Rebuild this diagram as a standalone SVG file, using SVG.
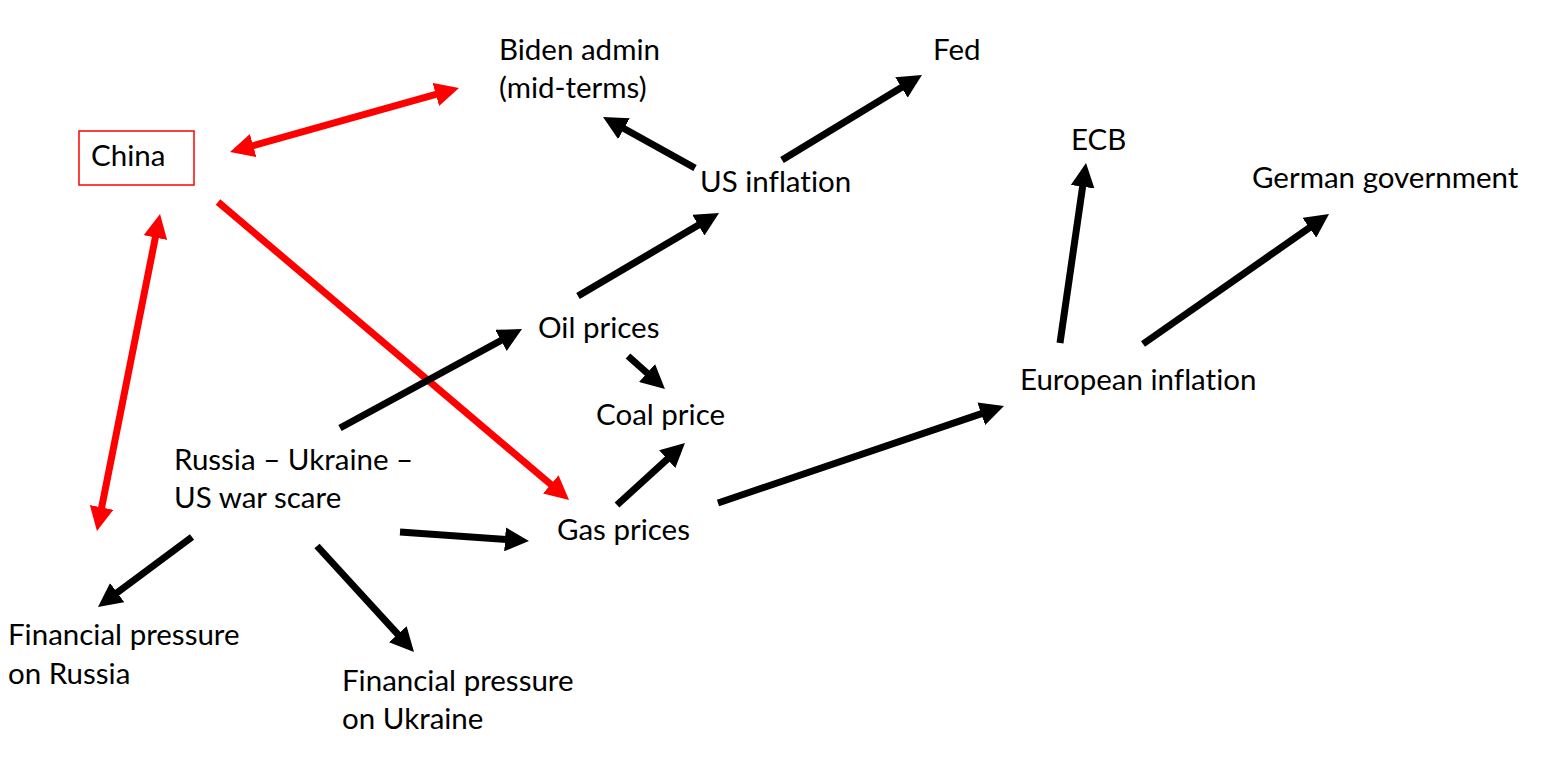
<svg xmlns="http://www.w3.org/2000/svg" width="1544" height="776" viewBox="0 0 1544 776">
<style>
text{font-family:Lato,"Liberation Sans",sans-serif;font-size:29.5px;fill:#000;font-variant-ligatures:none}
.k{stroke:#000;stroke-width:7;fill:none}
.r{stroke:#f00;stroke-width:7;fill:none}
</style>
<defs>
<marker id="ak" markerUnits="userSpaceOnUse" markerWidth="24" markerHeight="24" viewBox="0 0 24 24" refX="12" refY="12" orient="auto-start-reverse"><path d="M0,0 L24,12 L0,24 Z" fill="#000"/></marker>
<marker id="ar" markerUnits="userSpaceOnUse" markerWidth="24" markerHeight="24" viewBox="0 0 24 24" refX="12" refY="12" orient="auto-start-reverse"><path d="M0,0 L24,12 L0,24 Z" fill="#f00"/></marker>
</defs>
<rect width="1544" height="776" fill="#fff"/>
<g id="connectors">
<line class="r" x1="241.6" y1="148.8" x2="447.4" y2="91.2" marker-start="url(#ar)" marker-end="url(#ar)"/>
<line class="r" x1="157.7" y1="225.8" x2="99.3" y2="519.2" marker-start="url(#ar)" marker-end="url(#ar)"/>
<line class="r" x1="218" y1="202" x2="559.9" y2="492.2" marker-end="url(#ar)"/>
<line class="k" x1="340" y1="428" x2="511.5" y2="334.7" marker-end="url(#ak)"/>
<line class="k" x1="400" y1="532" x2="517" y2="540.2" marker-end="url(#ak)"/>
<line class="k" x1="192" y1="537" x2="107.6" y2="599.8" marker-end="url(#ak)"/>
<line class="k" x1="317" y1="546" x2="405.9" y2="643.1" marker-end="url(#ak)"/>
<line class="k" x1="578" y1="296" x2="708.7" y2="219.1" marker-end="url(#ak)"/>
<line class="k" x1="628" y1="356" x2="656" y2="381" marker-end="url(#ak)"/>
<line class="k" x1="617" y1="505" x2="676.1" y2="451.1" marker-end="url(#ak)"/>
<line class="k" x1="718" y1="503" x2="992.6" y2="409.9" marker-end="url(#ak)"/>
<line class="k" x1="695" y1="168" x2="613.5" y2="122.8" marker-end="url(#ak)"/>
<line class="k" x1="782" y1="160" x2="911.7" y2="81.2" marker-end="url(#ak)"/>
<line class="k" x1="1060" y1="343" x2="1084.3" y2="174.9" marker-end="url(#ak)"/>
<line class="k" x1="1143" y1="344" x2="1319.2" y2="220.9" marker-end="url(#ak)"/>
</g>
<g id="china"><rect x="79" y="131" width="115" height="54" fill="none" stroke="#f00" stroke-width="1.5"/><text x="91" y="166">China</text></g>
<g id="biden"><text x="499" y="60">Biden admin</text><text x="499" y="98">(mid-terms)</text></g>
<g id="fed"><text x="933" y="60">Fed</text></g>
<g id="us-inflation"><text x="700" y="192">US inflation</text></g>
<g id="ecb"><text x="1071" y="150">ECB</text></g>
<g id="german-gov"><text x="1252" y="188">German government</text></g>
<g id="oil"><text x="538" y="338">Oil prices</text></g>
<g id="coal"><text x="596" y="425">Coal price</text></g>
<g id="eu-inflation"><text x="1020" y="390">European inflation</text></g>
<g id="war"><text x="174" y="470">Russia – Ukraine –</text><text x="174" y="508">US war scare</text></g>
<g id="gas"><text x="557" y="540">Gas prices</text></g>
<g id="fp-russia"><text x="8" y="645">Financial pressure</text><text x="8" y="684">on Russia</text></g>
<g id="fp-ukraine"><text x="342" y="691">Financial pressure</text><text x="342" y="729">on Ukraine</text></g>
</svg>
